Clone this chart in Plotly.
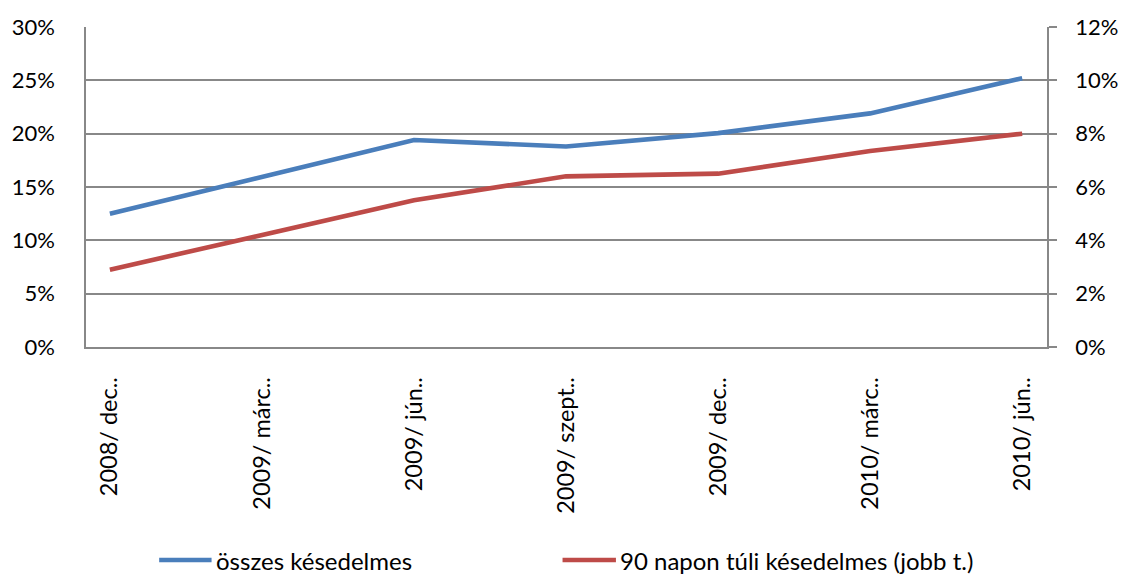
import plotly.graph_objects as go

categories = ["2008/ dec..", "2009/ márc..", "2009/ jún..", "2009/ szept..",
              "2009/ dec..", "2010/ márc..", "2010/ jún.."]
osszes = [0.125, 0.159, 0.194, 0.188, 0.2005, 0.219, 0.252]
napon90 = [0.029, 0.042, 0.055, 0.064, 0.065, 0.0735, 0.080]
series_names = ["összes késedelmes", "90 napon túli késedelmes (jobb t.)"]
left_ticks = [0, 0.05, 0.10, 0.15, 0.20, 0.25, 0.30]
right_ticks = [0, 0.02, 0.04, 0.06, 0.08, 0.10, 0.12]

BLUE = "#4A7EBB"
RED = "#BE4B48"
GRID = "#888888"
FONT = "Lato"
FS_Y = 22
FS_X = 23.5
FS_LEG = 24

x_idx = list(range(len(categories)))

fig = go.Figure()
fig.add_trace(go.Scatter(x=x_idx, y=osszes, mode="lines", name=series_names[0],
                         line=dict(color=BLUE, width=4.6), yaxis="y"))
fig.add_trace(go.Scatter(x=x_idx, y=napon90, mode="lines", name=series_names[1],
                         line=dict(color=RED, width=4.6), yaxis="y2"))

W, H = 1130, 576
L, R, T, B = 81, 77, 27, 229
pw, ph = W - L - R, H - T - B

def px_x(px):
    return (px - L) / pw

def px_y(py):
    return (H - B - py) / ph

fig.update_layout(
    width=W, height=H,
    margin=dict(l=L, r=R, t=T, b=B, pad=0),
    paper_bgcolor="white", plot_bgcolor="white",
    showlegend=False,
    font=dict(family=FONT, size=FS_Y, color="black"),
    xaxis=dict(
        tickmode="array", tickvals=x_idx, ticktext=categories,
        range=[-0.157, 6.163], tickangle=-90,
        showgrid=False, zeroline=False,
        showline=True, linecolor=GRID, linewidth=1.5,
        ticks="", ticklabelstandoff=19,
        tickfont=dict(family=FONT, size=FS_X, color="black"),
    ),
    yaxis=dict(
        range=[0, 0.30], tickmode="array", tickvals=left_ticks,
        tickformat=".0%", showgrid=True, gridcolor=GRID, gridwidth=1.5,
        zeroline=False, showline=True, linecolor=GRID, linewidth=1.5,
        ticks="", ticklabelstandoff=25,
        tickfont=dict(family=FONT, size=FS_Y, color="black"),
    ),
    yaxis2=dict(
        range=[0, 0.12], tickmode="array", tickvals=right_ticks,
        tickformat=".0%", overlaying="y", side="right",
        showgrid=False, zeroline=False,
        showline=True, linecolor=GRID, linewidth=1.5,
        ticks="outside", ticklen=8, tickcolor=GRID, tickwidth=1.5,
        ticklabelstandoff=14,
        tickfont=dict(family=FONT, size=FS_Y, color="black"),
    ),
)

# custom legend (long line samples like the original)
legend_y = px_y(560)
legend_items = [(155, 208, 210, BLUE, series_names[0]),
                (563, 617, 619, RED, series_names[1])]
for x0, x1, xt, col, name in legend_items:
    fig.add_shape(type="line", xref="paper", yref="paper",
                  x0=px_x(x0), x1=px_x(x1), y0=legend_y, y1=legend_y,
                  line=dict(color=col, width=4.6))
    fig.add_annotation(xref="paper", yref="paper", x=px_x(xt), y=legend_y,
                       text=name, showarrow=False, xanchor="left", yanchor="middle",
                       font=dict(family=FONT, size=FS_LEG, color="black"))

fig.write_html("out.html",
               config={"displayModeBar": False},
               post_script="document.body.style.margin='0';document.body.style.overflow='hidden';")
